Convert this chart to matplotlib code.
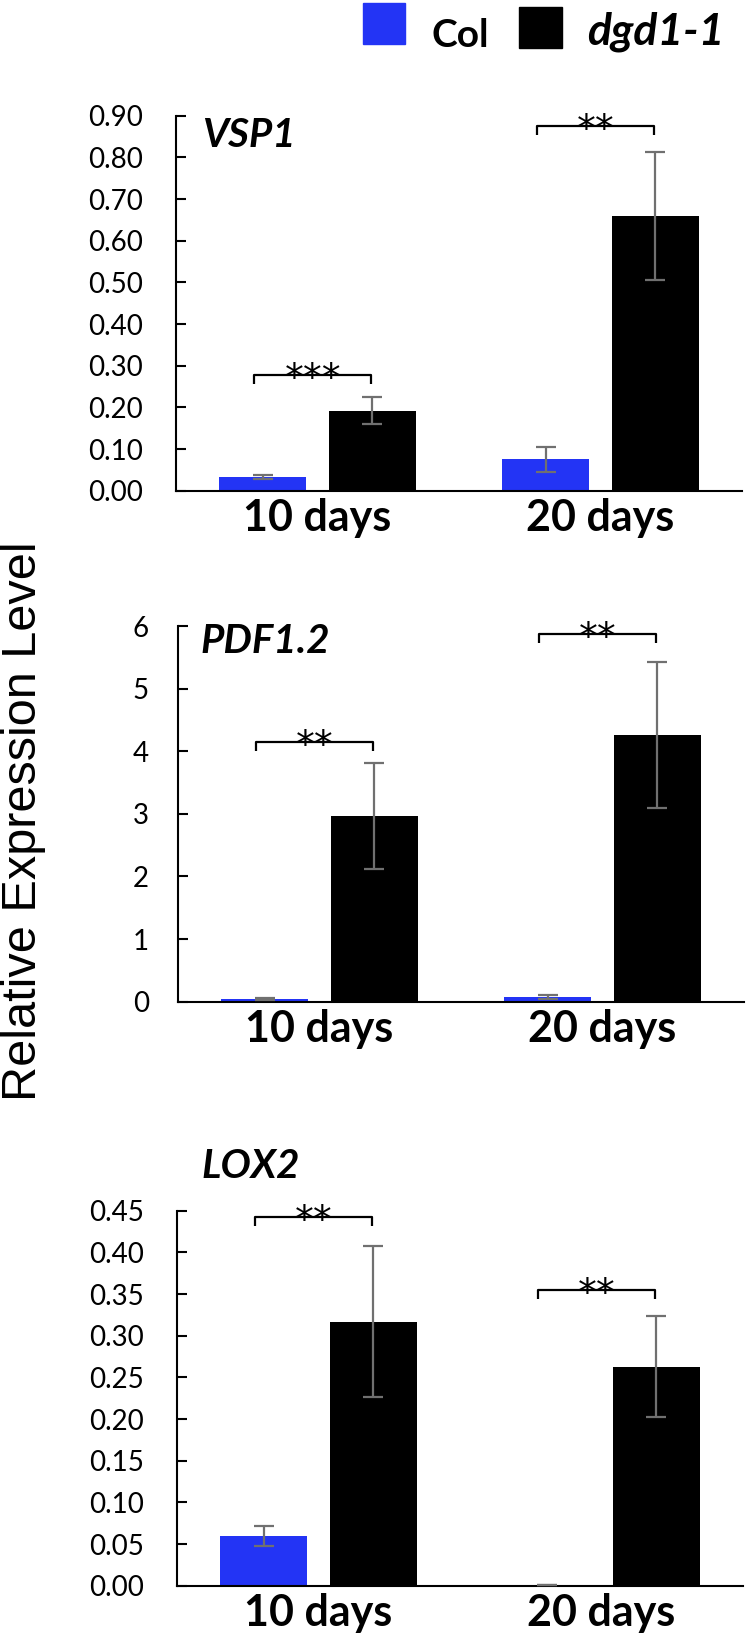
import numpy as np
import matplotlib.pyplot as plt
from matplotlib.patches import Rectangle

# data
groups = ['10 days', '20 days']
genes = ['VSP1', 'PDF1.2', 'LOX2']

vsp1_col = [0.033, 0.075]
vsp1_col_err = [0.004, 0.030]
vsp1_dgd = [0.192, 0.660]
vsp1_dgd_err = [0.033, 0.154]

pdf12_col = [0.04, 0.08]
pdf12_col_err = [0.02, 0.03]
pdf12_dgd = [2.97, 4.26]
pdf12_dgd_err = [0.85, 1.16]

lox2_col = [0.060, 0.001]
lox2_col_err = [0.012, 0.0]
lox2_dgd = [0.317, 0.263]
lox2_dgd_err = [0.091, 0.061]

vsp1_stars = ['***', '**']
pdf12_stars = ['**', '**']
lox2_stars = ['**', '**']
vsp1_bracket = [0.278, 0.875]
pdf12_bracket = [4.14, 5.87]
lox2_bracket = [0.443, 0.355]

yticks_vsp1 = np.arange(0, 0.91, 0.1)
yticks_pdf12 = np.arange(0, 7, 1)
yticks_lox2 = np.arange(0, 0.46, 0.05)

blue = '#2334f5'
err_color = '#707070'
W, H = 752, 1644

fig = plt.figure(figsize=(W / 100, H / 100), dpi=100)

# left edge px, y px of zero line, y px of top tick, gene label pos (axes frac)
layout = [
    dict(left=176, y0=490.7, y1=115.7, lab=(0.046, 0.9485), fmt='%.2f', pad=24),
    dict(left=178, y0=1001.7, y1=626, lab=(0.039, 0.958), fmt='%d', pad=21),
    dict(left=177, y0=1585.7, y1=1210.7, lab=(0.044, 1.119), fmt='%.2f', pad=24),
]
col_vals = [vsp1_col, pdf12_col, lox2_col]
col_errs = [vsp1_col_err, pdf12_col_err, lox2_col_err]
dgd_vals = [vsp1_dgd, pdf12_dgd, lox2_dgd]
dgd_errs = [vsp1_dgd_err, pdf12_dgd_err, lox2_dgd_err]
stars = [vsp1_stars, pdf12_stars, lox2_stars]
brackets = [vsp1_bracket, pdf12_bracket, lox2_bracket]
yticks = [yticks_vsp1, yticks_pdf12, yticks_lox2]

x = np.arange(len(groups))
off = 0.194
bw = 0.307

for i, gene in enumerate(genes):
    L = layout[i]
    rect = [L['left'] / W, 1 - L['y0'] / H, 566 / W, (L['y0'] - L['y1']) / H]
    ax = fig.add_axes(rect)
    ymax = yticks[i][-1]

    ax.bar(x - off, col_vals[i], bw, color=blue, zorder=2)
    ax.bar(x + off, dgd_vals[i], bw, color='black', zorder=2)
    ax.errorbar(x - off, col_vals[i], yerr=col_errs[i], fmt='none', ecolor=err_color,
                elinewidth=1.6, capsize=7, capthick=1.6, zorder=3)
    ax.errorbar(x + off, dgd_vals[i], yerr=dgd_errs[i], fmt='none', ecolor=err_color,
                elinewidth=1.6, capsize=7, capthick=1.6, zorder=3)

    # significance brackets
    drop = ymax * 0.024
    for g in range(len(groups)):
        xl, xr = x[g] - 0.223, x[g] + 0.19
        yb = brackets[i][g]
        ax.plot([xl, xl, xr, xr], [yb - drop, yb, yb, yb - drop], color='black',
                lw=1.6, solid_capstyle='butt', clip_on=False)
        ax.annotate(stars[i][g], ((xl + xr) / 2, yb), xytext=(0, -15),
                    textcoords='offset pixels', ha='center', va='baseline',
                    fontsize=27, family='DejaVu Sans', annotation_clip=False)

    ax.set_xlim(-0.5, 1.5)
    ax.set_ylim(0, ymax)
    ax.set_yticks(yticks[i])
    ax.set_yticklabels([L['fmt'] % v for v in yticks[i]], family='Lato', fontsize=20)
    ax.set_xticks(x)
    ax.set_xticklabels(groups, family='Lato', fontweight='bold', fontsize=31)
    ax.tick_params(axis='y', direction='in', length=7, width=1.5, pad=L['pad'])
    ax.tick_params(axis='x', length=0, pad=5)
    for s in ['top', 'right']:
        ax.spines[s].set_visible(False)
    for s in ['left', 'bottom']:
        ax.spines[s].set_linewidth(1.5)

    ax.text(L['lab'][0], L['lab'][1], gene, transform=ax.transAxes, family='Lato',
            fontweight='bold', style='italic', fontsize=29, ha='left', va='center')

fig.text(24 / W, 1 - 821 / H, 'Relative Expression Level', rotation=90,
         family='Liberation Sans', fontsize=35, ha='center', va='center')

# legend drawn by hand
fig.add_artist(Rectangle((362.7 / W, 1 - 44 / H), 42.3 / W, 41.3 / H,
                         transform=fig.transFigure, color=blue))
fig.add_artist(Rectangle((519 / W, 1 - 48.3 / H), 42.7 / W, 41.6 / H,
                         transform=fig.transFigure, color='black'))
fig.text(431.7 / W, 1 - 46.7 / H, 'Col', family='Lato', fontweight='bold',
         fontsize=28, ha='left', va='baseline')
fig.text(586.7 / W, 1 - 44 / H, 'dgd1-1', family='Lato', fontweight='bold',
         style='italic', fontsize=32, ha='left', va='baseline')

fig.savefig('out.png', dpi=100)
